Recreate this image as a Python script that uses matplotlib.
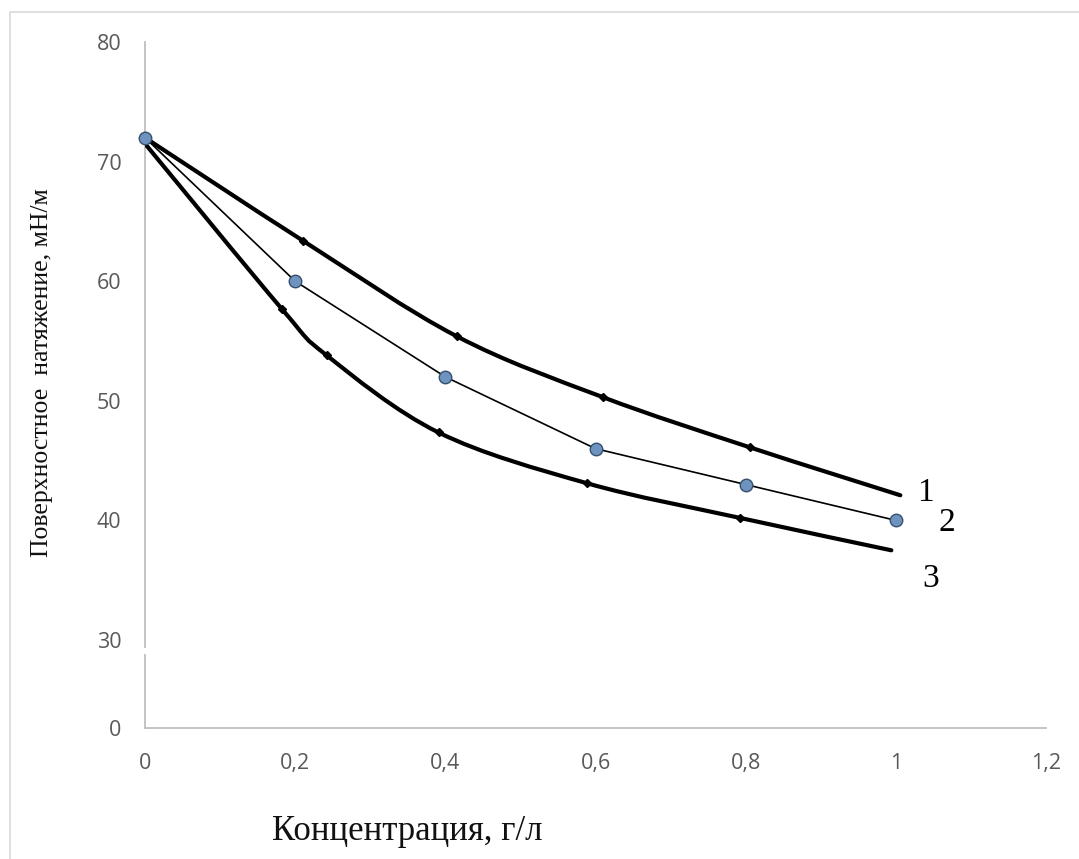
import matplotlib
matplotlib.use("Agg")
import matplotlib.pyplot as plt
from matplotlib.path import Path
from matplotlib.patches import PathPatch, Rectangle
from matplotlib.ticker import FuncFormatter


# concentration, g/l  /  surface tension, mN/m
CURVE1_X = [0.0, 0.21, 0.415, 0.61, 0.806, 1.006]
CURVE1_Y = [72.0, 63.4, 55.4, 50.3, 46.1, 42.1]

CURVE2_X = [0.0, 0.2, 0.4, 0.6, 0.8, 1.0]
CURVE2_Y = [72.0, 60.0, 52.0, 46.0, 43.0, 40.0]

CURVE3_X = [0.0, 0.182, 0.242, 0.391, 0.589, 0.793, 0.994]
CURVE3_Y = [71.5, 57.7, 53.8, 47.35, 43.1, 40.2, 37.5]

CURVE_NAMES = ["1", "2", "3"]

X_TICKS = [0, 0.2, 0.4, 0.6, 0.8, 1.0, 1.2]
Y_TICKS_TOP = [30, 40, 50, 60, 70, 80]
Y_TICKS_BOTTOM = [0]

X_LABEL = "Концентрация, г/л"
Y_LABEL = "Поверхностное  натяжение, мН/м"

AXIS_GREY = "#bfbfbf"
TICK_GREY = "#595959"


def smooth_path(xs, ys):
    # Excel-like smoothed line: Catmull-Rom segments as cubic Beziers
    pts = list(zip(xs, ys))
    verts = [pts[0]]
    codes = [Path.MOVETO]
    n = len(pts)
    for i in range(n - 1):
        p0 = pts[i - 1] if i > 0 else pts[i]
        p1 = pts[i]
        p2 = pts[i + 1]
        p3 = pts[i + 2] if i + 2 < n else pts[i + 1]
        c1 = (p1[0] + (p2[0] - p0[0]) / 6, p1[1] + (p2[1] - p0[1]) / 6)
        c2 = (p2[0] - (p3[0] - p1[0]) / 6, p2[1] - (p3[1] - p1[1]) / 6)
        verts += [c1, c2, p2]
        codes += [Path.CURVE4] * 3
    return Path(verts, codes)


def comma_fmt(v, pos):
    s = f"{v:g}"
    return s.replace(".", ",")


def main():
    plt.rcParams["font.family"] = ["Open Sans", "DejaVu Sans"]
    fig = plt.figure(figsize=(10.79, 8.59), dpi=100)

    # light frame around the chart area
    fig.patches.append(Rectangle((10 / 1079, -0.01), 1.0, 1.0 - 12 / 859 + 0.01,
                                 transform=fig.transFigure, fill=False,
                                 edgecolor="#d9d9d9", linewidth=1.2))

    left, width = 145 / 1079, 901 / 1079
    ax = fig.add_axes([left, 1 - 647 / 859, width, (647 - 42) / 859])
    axb = fig.add_axes([left, 1 - 728 / 859, width, (728 - 655) / 859])

    ax.set_xlim(0, 1.2)
    ax.set_ylim(30 - 7 / 11.95, 80)
    axb.set_xlim(0, 1.2)
    axb.set_ylim(0, 73 / 11.95)

    for a in (ax, axb):
        for side in ("top", "right"):
            a.spines[side].set_visible(False)
        a.spines["left"].set_color(AXIS_GREY)
        a.spines["left"].set_linewidth(1.3)
        a.patch.set_alpha(0)
        a.tick_params(length=0, colors=TICK_GREY, labelsize=15.5, pad=17)

    ax.spines["bottom"].set_visible(False)
    ax.set_xticks([])
    ax.set_yticks(Y_TICKS_TOP)

    axb.spines["bottom"].set_color(AXIS_GREY)
    axb.spines["bottom"].set_linewidth(1.3)
    axb.set_yticks(Y_TICKS_BOTTOM)
    axb.set_xticks(X_TICKS)
    axb.xaxis.set_major_formatter(FuncFormatter(comma_fmt))
    axb.tick_params(axis="x", pad=18)

    # curves 1 and 3: thick smoothed black lines with small markers
    for xs, ys in ((CURVE1_X, CURVE1_Y), (CURVE3_X, CURVE3_Y)):
        ax.add_patch(PathPatch(smooth_path(xs, ys), fill=False,
                               edgecolor="black", linewidth=3.0,
                               capstyle="round", zorder=3))
        ax.plot(xs[1:-1], ys[1:-1], linestyle="none", marker="D",
                markersize=4.5, color="black", zorder=4)

    # curve 2: thin straight segments with blue circles
    ax.plot(CURVE2_X, CURVE2_Y, color="black", linewidth=1.2,
            marker="o", markersize=9, markerfacecolor="#6f93bf",
            markeredgecolor="#34506e", markeredgewidth=1.0, zorder=5,
            clip_on=False)

    label_pos = [(1.04, 42.3), (1.068, 39.8), (1.047, 35.1)]
    for name, (lx, ly) in zip(CURVE_NAMES, label_pos):
        ax.text(lx, ly, name, family="Liberation Serif", fontsize=24,
                ha="center", va="center", color="black")

    fig.text(407 / 1079, 1 - 832 / 859, X_LABEL, family="Liberation Serif",
             fontsize=25, ha="center", va="center", color="#111111")
    fig.text(42 / 1079, 1 - 373 / 859, Y_LABEL, family="Liberation Serif",
             fontsize=18.5, rotation=90, ha="center", va="center",
             color="#111111")

    fig.savefig("out.png", dpi=100)
    plt.close(fig)


if __name__ == "__main__":
    main()
